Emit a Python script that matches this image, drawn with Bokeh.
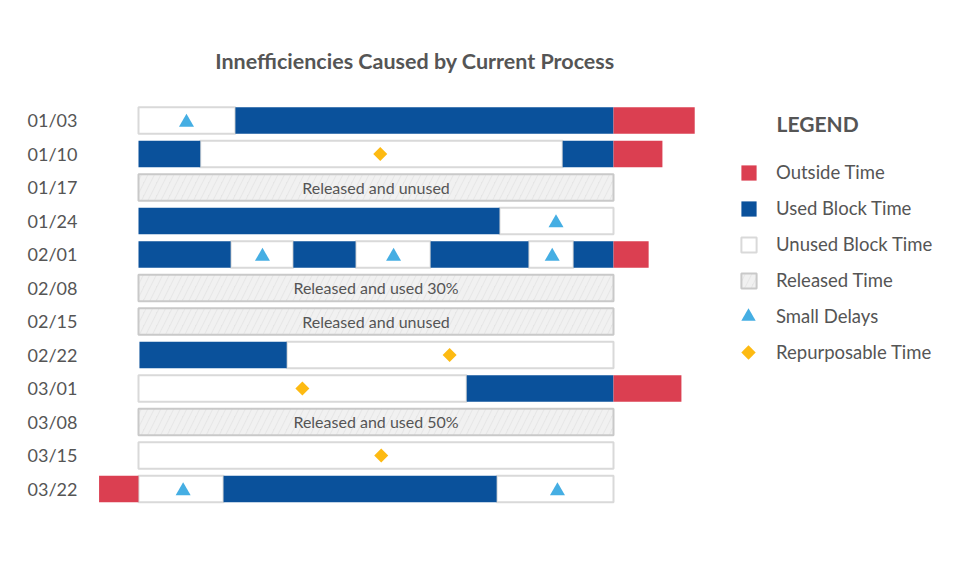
import math
from bokeh.plotting import figure
from bokeh.models import Range1d, FixedTicker, Legend, LegendItem, Label, ColumnDataSource
from bokeh.transform import dodge
from bokeh.core.properties import value
from bokeh.embed import file_html
from bokeh.resources import INLINE

# ---------------- data (block time expressed as % of the scheduled block) ----------------
dates = ["01/03", "01/10", "01/17", "01/24", "02/01", "02/08",
         "02/15", "02/22", "03/01", "03/08", "03/15", "03/22"]

outside_row = [0, 1, 4, 8, 11]
outside_start = [100, 100, 100, 100, -8.3]
outside_end = [117.1, 110.3, 107.4, 114.3, 0]

used_row = [0, 1, 1, 3, 4, 4, 4, 4, 7, 8, 11]
used_start = [20.4, 0, 89.3, 0, 0, 32.6, 61.5, 91.6, 0.2, 69.1, 17.9]
used_end = [100, 13.0, 100, 76.0, 19.4, 45.7, 82.1, 100, 31.2, 100, 75.4]

unused_row = [0, 1, 3, 4, 4, 4, 7, 8, 10, 11, 11]
unused_start = [0, 13.0, 76.0, 19.4, 45.7, 82.1, 31.2, 0, 0, 0, 75.4]
unused_end = [20.4, 89.3, 100, 32.6, 61.5, 91.6, 100, 69.1, 100, 17.9, 100]

released_row = [2, 5, 6, 9]
released_start = [0, 0, 0, 0]
released_end = [100, 100, 100, 100]
released_labels = ["Released and unused", "Released and used 30%",
                   "Released and unused", "Released and used 50%"]

delay_row = [0, 3, 4, 4, 4, 11, 11]
delay_x = [10.1, 87.9, 26.1, 53.7, 87.1, 9.4, 88.2]

repurpose_row = [1, 7, 8, 10]
repurpose_x = [50.9, 65.5, 34.5, 51.1]

title = "Innefficiencies Caused by Current Process"

# ---------------- styling ----------------
BLUE = "#0a519b"
RED = "#db3f51"
TRI = "#45aee3"
GOLD = "#fdba12"
TXT = "#555555"
FONT = "Lato"
BAR_H = 0.79

p = figure(width=953, height=565, output_backend="svg", toolbar_location=None,
           x_axis_type=None,
           x_range=Range1d(-10.105, 171.58), y_range=Range1d(13.284, -3.343),
           min_border_left=90, min_border_right=0, min_border_top=8, min_border_bottom=0)
p.outline_line_color = None
p.grid.visible = False
p.background_fill_color = "white"
p.border_fill_color = "white"

ax = p.yaxis[0]
ax.ticker = FixedTicker(ticks=list(range(len(dates))))
ax.major_label_overrides = {i: d for i, d in enumerate(dates)}
ax.axis_line_color = None
ax.major_tick_line_color = None
ax.minor_tick_line_color = None
ax.major_tick_out = 0
ax.major_tick_in = 0
ax.major_label_standoff = 13
ax.major_label_text_font = FONT
ax.major_label_text_font_size = "18px"
ax.major_label_text_color = TXT

def bars(rows, starts, ends):
    return ColumnDataSource(dict(y=rows, left=starts, right=ends))

r_unused = p.hbar(y="y", left="left", right="right", height=BAR_H, source=bars(unused_row, unused_start, unused_end),
                  fill_color="white", line_color="#d9d9d9", line_width=2)
r_released = p.hbar(y="y", left="left", right="right", height=BAR_H,
                    source=bars(released_row, released_start, released_end),
                    fill_color="#e5e5e5", line_color="#c9c9c9", line_width=2,
                    hatch_pattern="/", hatch_color="#f1f1f1", hatch_weight=5, hatch_scale=13)
r_used = p.hbar(y="y", left="left", right="right", height=BAR_H, source=bars(used_row, used_start, used_end),
                fill_color=BLUE, line_color=None)
r_out = p.hbar(y="y", left="left", right="right", height=BAR_H, source=bars(outside_row, outside_start, outside_end),
               fill_color=RED, line_color=None)

lab_src = ColumnDataSource(dict(x=[(a + b) / 2 for a, b in zip(released_start, released_end)],
                                y=released_row, t=released_labels))
p.text(x="x", y="y", text="t", source=lab_src, text_align="center", text_baseline="middle",
       text_font=value(FONT), text_font_size="16px", text_color=TXT)

d_src = ColumnDataSource(dict(x=delay_x, y=delay_row))
r_delay = p.scatter(x="x", y=dodge("y", 0.06), source=d_src, marker="triangle", size=15,
                    fill_color=TRI, line_color=None)
g_src = ColumnDataSource(dict(x=repurpose_x, y=repurpose_row))
if hasattr(p, "ngon"):
    r_rep = p.ngon(x="x", y="y", source=g_src, radius=7, radius_units="screen", n=4,
                   fill_color=GOLD, line_color=None)
else:
    r_rep = p.scatter(x="x", y="y", source=g_src, marker="square", size=10, angle=math.pi / 4,
                      fill_color=GOLD, line_color=None)

common = dict(padding=0, margin=0, border_line_color=None, background_fill_alpha=0,
              label_text_font=FONT, label_text_font_size="18.5px", label_text_color=TXT)
legA = Legend(items=[LegendItem(label="Outside Time", renderers=[r_out]),
                     LegendItem(label="Used Block Time", renderers=[r_used]),
                     LegendItem(label="Unused Block Time", renderers=[r_unused]),
                     LegendItem(label="Released Time", renderers=[r_released])],
              location=(649, 274), glyph_width=19, glyph_height=19, label_height=22,
              spacing=14, label_standoff=18, **common)
legB = Legend(items=[LegendItem(label="Small Delays", renderers=[r_delay]),
                     LegendItem(label="Repurposable Time", renderers=[r_rep])],
              location=(640, 195), glyph_width=36, glyph_height=36, label_height=22,
              spacing=0, label_standoff=10, **common)
p.add_layout(legA)
p.add_layout(legB)

p.add_layout(Label(x=324.5, y=505, x_units="screen", y_units="screen", text=title,
                   text_align="center", text_baseline="middle", text_font=FONT,
                   text_font_style="bold", text_font_size="21.5px", text_color=TXT))
p.add_layout(Label(x=686, y=442, x_units="screen", y_units="screen", text="LEGEND",
                   text_align="left", text_baseline="middle", text_font=FONT,
                   text_font_style="bold", text_font_size="21px", text_color=TXT))

open("out.html", "w").write(file_html(p, INLINE))
